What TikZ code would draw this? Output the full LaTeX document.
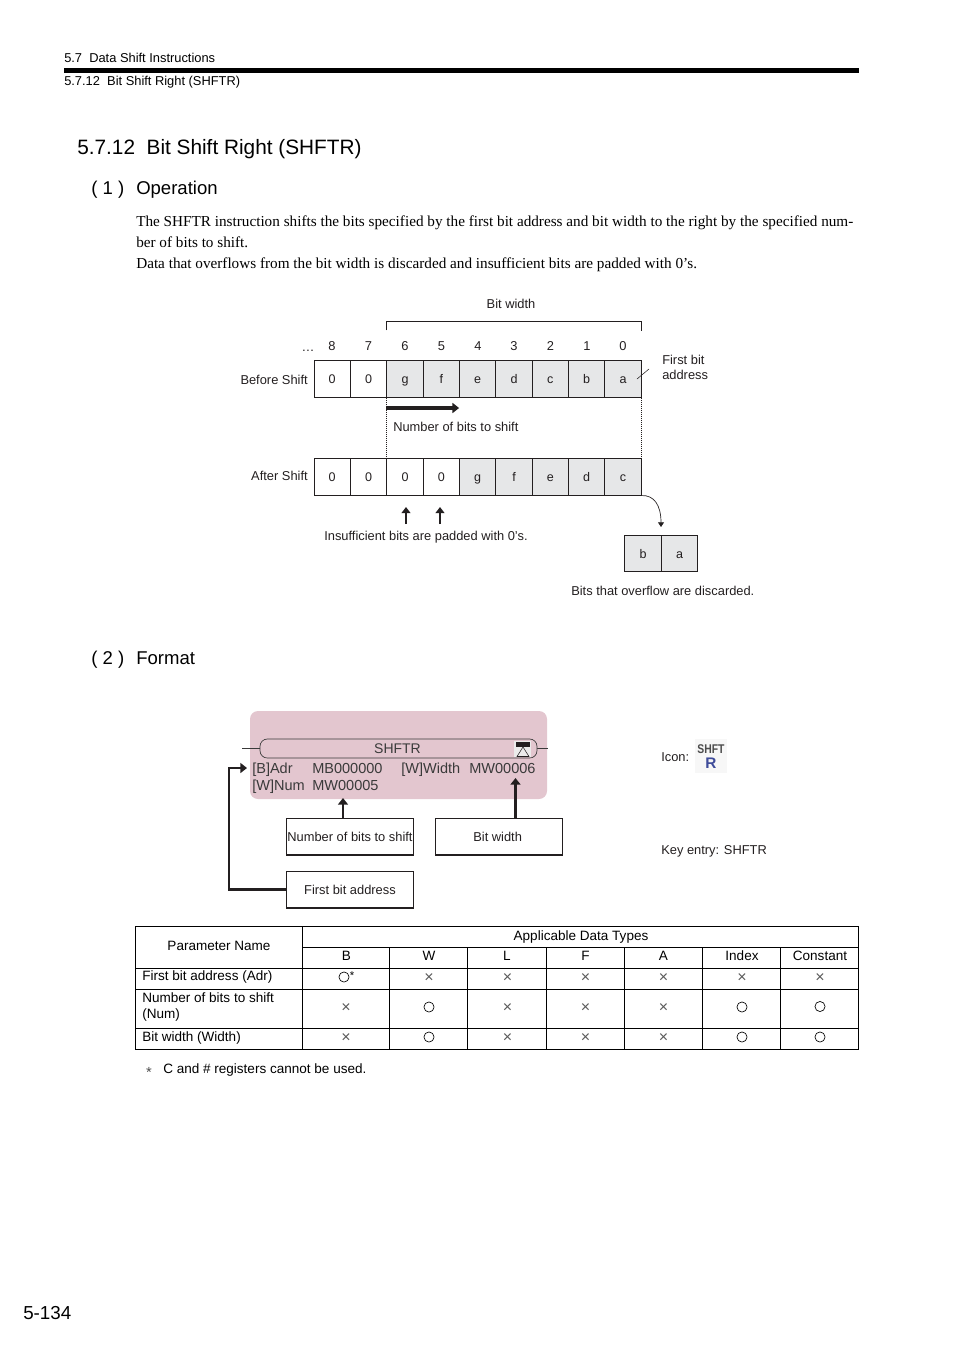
\documentclass[tikz,border=0pt]{standalone}
\usepackage{fontspec}
\setmainfont{Liberation Sans}
\newfontfamily\timesfont{Liberation Serif}
\usetikzlibrary{arrows.meta}
\definecolor{inkdark}{HTML}{231F20}
\definecolor{cellgray}{HTML}{E6E7E8}
\definecolor{panelpink}{HTML}{E3C6CF}
\definecolor{paneltext}{HTML}{3A3A3A}
\definecolor{iconblue}{HTML}{3F4C9A}
\tikzset{
  label/.style={inner sep=0pt,anchor=base west,text=inkdark,font=\fontsize{9.65}{11}\selectfont},
  clabel/.style={label,anchor=base},
  rlabel/.style={label,anchor=base east},
  heading/.style={label,text=black,font=\fontsize{13.9}{16}\selectfont},
  bodytext/.style={label,text=black,font=\timesfont\fontsize{11.41}{13}\selectfont},
  cell/.style={draw=inkdark,line width=0.6pt,inner sep=0pt,minimum width=27.3pt,minimum height=27.2pt,text height=8.8pt,text depth=1.9pt,text=inkdark,font=\fontsize{9.4}{11}\selectfont},
  graycell/.style={cell,fill=cellgray},
  callout/.style={draw=inkdark,line width=0.5pt,inner sep=0pt,minimum width=95.5pt,minimum height=27.6pt,text height=8.8pt,text depth=1.9pt,text=inkdark,font=\fontsize{9.65}{11}\selectfont},
  fatarrow/.style={draw=inkdark,line width=1.7pt,-{Triangle[length=5pt,width=7.5pt]}},
  paneltxt/.style={inner sep=0pt,anchor=base west,text=paneltext,font=\fontsize{10.9}{13}\selectfont},
  tabletxt/.style={label,text=black,font=\fontsize{10.15}{12}\selectfont},
  tablec/.style={tabletxt,anchor=base},
  okmark/.style={draw=black,circle,line width=0.5pt,inner sep=0pt,minimum size=7.6pt},
  nomark/.style={inner sep=0pt,text=black!65,font=\fontsize{12}{13}\selectfont},
  gridline/.style={draw=black,line width=0.6pt}
}
\begin{document}
\begin{tikzpicture}[x=0.75pt,y=-0.75pt]
\useasboundingbox (0,0) rectangle (954,1350);
% running head
\node[label,text=black] (headsec) at (64,62) {5.7\ \ Data Shift Instructions};
\fill[black] (64,68) rectangle (859,73);
\node[label,text=black] (headsub) at (64,85) {5.7.12\ \ Bit Shift Right (SHFTR)};

\node[heading,font=\fontsize{15.6}{19}\selectfont] (title) at (77,154) {5.7.12\ \ Bit Shift Right (SHFTR)};
\node[heading] (opnum) at (91,194) {( 1 )};
\node[heading] (optitle) at (136,194) {Operation};
\node[bodytext] (para1) at (136,226) {The SHFTR instruction shifts the bits specified by the first bit address and bit width to the right by the specified num-};
\node[bodytext] (para2) at (136,247) {ber of bits to shift.};
\node[bodytext] (para3) at (136,268) {Data that overflows from the bit width is discarded and insufficient bits are padded with 0’s.};

% before shift
\node[clabel] (bitwidth) at (511,308) {Bit width};
\node[clabel] (dots) at (308,351) {…};
\node[clabel] (n8) at (332,350) {8};
\node[clabel] (n7) at (368.5,350) {7};
\node[clabel] (n6) at (405,350) {6};
\node[clabel] (n5) at (441.5,350) {5};
\node[clabel] (n4) at (478,350) {4};
\node[clabel] (n3) at (514,350) {3};
\node[clabel] (n2) at (550.5,350) {2};
\node[clabel] (n1) at (587,350) {1};
\node[clabel] (n0) at (623,350) {0};
\node[rlabel] (before) at (308,384) {Before Shift};
\node[cell] (bs8) at (332.2,379) {0};
\node[cell] (bs7) at (368.5,379) {0};
\node[graycell] (bs6) at (405,379) {g};
\node[graycell] (bs5) at (441.3,379) {f};
\node[graycell] (bs4) at (477.7,379) {e};
\node[graycell] (bs3) at (514,379) {d};
\node[graycell] (bs2) at (550.3,379) {c};
\node[graycell] (bs1) at (586.7,379) {b};
\node[graycell] (bs0) at (623,379) {a};
\draw[draw=inkdark,line width=0.6pt] (bs6.north west) ++(0,-30) -- ++(0,-9) -| ([yshift=22.3pt]bs0.north east);
\node[label] (first1) at (662,364) {First bit};
\node[label] (first2) at (662,379) {address};
\coordinate (firsttick) at (649,369);
\draw[draw=inkdark,line width=0.4pt] (firsttick) -- (637,379);

\coordinate (shiftend) at (bs4.south west |- 0,408);
\draw[fatarrow,line width=2.4pt] (bs6.south west |- shiftend) -- (shiftend);
\node[label] (shiftlabel) at (393,431) {Number of bits to shift};

% after shift
\node[rlabel] (after) at (308,480) {After Shift};
\node[cell] (as8) at (332.2,477) {0};
\node[cell] (as7) at (368.5,477) {0};
\node[cell] (as6) at (405,477) {0};
\node[cell] (as5) at (441.3,477) {0};
\node[graycell] (as4) at (477.7,477) {g};
\node[graycell] (as3) at (514,477) {f};
\node[graycell] (as2) at (550.3,477) {e};
\node[graycell] (as1) at (586.7,477) {d};
\node[graycell] (as0) at (623,477) {c};
\draw[draw=inkdark,line width=0.5pt,densely dotted] (bs6.south west) -- (as6.north west);
\draw[draw=inkdark,line width=0.5pt,densely dotted] (bs0.south east) -- (as0.north east);

\coordinate (pad6) at (406,507);
\coordinate (pad5) at (440,507);
\node[label] (padlabel) at (324,540) {Insufficient bits are padded with 0’s.};
\draw[draw=inkdark,line width=1.3pt,-{Triangle[length=4.5pt,width=6.5pt]}] (pad6 |- 0,524) -- (pad6);
\draw[draw=inkdark,line width=1.3pt,-{Triangle[length=4.5pt,width=6.5pt]}] (pad5 |- 0,524) -- (pad5);

\node[graycell] (ovb) at (643,553.7) {b};
\node[graycell] (ova) at (679.5,553.7) {a};
\draw[draw=inkdark,line width=0.5pt,-{Triangle[length=3.5pt,width=4.5pt]}] (as0.south east) .. controls (654,495) and (661,505) .. (661,527);
\node[label] (ovlabel) at (571,595) {Bits that overflow are discarded.};

% format
\node[heading] (fmtnum) at (91,664) {( 2 )};
\node[heading] (fmttitle) at (136,664) {Format};

\draw[draw=none,fill=panelpink,rounded corners=6pt] (250,711) rectangle (547,799);
\draw[draw=paneltext,line width=0.4pt] (242,748.5) -- (548,748.5);
\draw[draw=paneltext,fill=panelpink,line width=0.5pt,rounded corners=5.5pt] (260,739) rectangle (537,758);
\node[paneltxt,anchor=base,font=\fontsize{10.5}{13}\selectfont] (fname) at (397.5,753) {SHFTR};
% little icon in the bar
\fill[white!92!black] (514,741) rectangle (531,757);
\fill[inkdark] (516,742) rectangle (530,746.5);
\draw[draw=inkdark,line width=0.4pt] (523,747) -- (529,756.5) -- (517,756.5) -- cycle;
\node[paneltxt] (padr) at (252,773) {[B]Adr};
\node[paneltxt] (vadr) at (312,773) {MB000000};
\node[paneltxt] (pwidth) at (401,773) {[W]Width};
\node[paneltxt] (vwidth) at (469,773) {MW00006};
\node[paneltxt] (pnum) at (252,790) {[W]Num};
\node[paneltxt] (vnum) at (312,790) {MW00005};

\node[callout] (numbox) at (350,836.5) {Number of bits to shift};
\node[callout] (widthbox) at (499,836.5) {Bit width\hspace*{2pt}};
\node[callout] (addrbox) at (350,889.5) {First bit address};
\draw[draw=inkdark,line width=1.4pt] (numbox.south west) -- (numbox.south east);
\draw[draw=inkdark,line width=1.4pt] (widthbox.south west) -- (widthbox.south east);
\draw[draw=inkdark,line width=1.4pt] (addrbox.south west) -- (addrbox.south east);
\coordinate (numtip) at (343,798);
\coordinate (widthtip) at (515.5,778);
\coordinate (addrtip) at (247,768);
\draw[fatarrow] (numtip |- numbox.north) -- (numtip);
\draw[fatarrow] (widthtip |- widthbox.north) -- (widthtip);
\draw[fatarrow] (addrbox.west) -| (229,768) -- (addrtip);

\node[label] (iconlabel) at (661,761) {Icon:};
\fill[black!3] (695,739) rectangle (727,773);
\node[inner sep=0pt,anchor=base,text=black!70,font=\bfseries\fontsize{9.5}{10}\selectfont] (icontop) at (711,753) {\scalebox{.82}[1]{SHFT}};
\node[inner sep=0pt,anchor=base,text=iconblue,font=\bfseries\fontsize{11.5}{12}\selectfont] (iconr) at (711,768) {R};
\node[label] (keylabel) at (661,854) {Key entry: SHFTR};

% table grid
\draw[gridline] (135.5,926.5) rectangle (858.5,1049.5);
\draw[gridline] (302.5,947.5) -- (858.5,947.5);
\draw[gridline] (135.5,968.5) -- (858.5,968.5);
\draw[gridline] (135.5,989.5) -- (858.5,989.5);
\draw[gridline] (135.5,1028.5) -- (858.5,1028.5);
\draw[gridline] (302.5,926.5) -- (302.5,1049.5);
\draw[gridline] (389.5,947.5) -- (389.5,1049.5);
\draw[gridline] (467.5,947.5) -- (467.5,1049.5);
\draw[gridline] (546.5,947.5) -- (546.5,1049.5);
\draw[gridline] (624.5,947.5) -- (624.5,1049.5);
\draw[gridline] (702.5,947.5) -- (702.5,1049.5);
\draw[gridline] (780.5,947.5) -- (780.5,1049.5);

\node[tablec] (hparam) at (219,950) {Parameter Name};
\node[tablec] (htypes) at (581,940.5) {Applicable Data Types};
\node[tablec] (hb) at (346.5,960.5) {B};
\node[tablec] (hw) at (429,960.5) {W};
\node[tablec] (hl) at (507,960.5) {L};
\node[tablec] (hf) at (585.5,960.5) {F};
\node[tablec] (ha) at (663.5,960.5) {A};
\node[tablec] (hi) at (742,960.5) {Index};
\node[tablec] (hc) at (820,960.5) {Constant};

\node[tabletxt] (rowadr) at (142,980) {First bit address (Adr)};
\node[okmark] (adrb) at (344,977) {};
\node[tablec,anchor=base west,font=\fontsize{8.5}{9}\selectfont] (adrstar) at (349.5,979) {*};
\node[nomark] (adrw) at (429,978) {×};
\node[nomark] (adrl) at (507.5,978) {×};
\node[nomark] (adrf) at (585.5,978) {×};
\node[nomark] (adra) at (663.5,978) {×};
\node[nomark] (adri) at (742,978) {×};
\node[nomark] (adrc) at (820,978) {×};

\node[tabletxt] (rownum) at (142,1002) {Number of bits to shift};
\node[tabletxt] (rownum2) at (142,1018) {(Num)};
\node[nomark] (numb) at (346,1008) {×};
\node[okmark] (numw) at (429,1007) {};
\node[nomark] (numl) at (507.5,1008) {×};
\node[nomark] (numf) at (585.5,1008) {×};
\node[nomark] (numa) at (663.5,1008) {×};
\node[okmark] (numi) at (742,1007) {};
\node[okmark] (numc) at (820,1006.5) {};

\node[tabletxt] (rowwid) at (142,1041) {Bit width (Width)};
\node[nomark] (widb) at (346,1038.5) {×};
\node[okmark] (widw) at (429,1037) {};
\node[nomark] (widl) at (507.5,1038.5) {×};
\node[nomark] (widf) at (585.5,1038.5) {×};
\node[nomark] (wida) at (663.5,1038.5) {×};
\node[okmark] (widi) at (742,1037) {};
\node[okmark] (widc) at (820,1037) {};

\node[tablec,font=\fontsize{11}{12}\selectfont,text=black!70] (footstar) at (149,1077) {*};
\node[tabletxt] (foot) at (163,1073) {C and \# registers cannot be used.};

\node[label,text=black,font=\fontsize{14.1}{18}\selectfont] (pageno) at (23,1319) {5-134};
\end{tikzpicture}
\end{document}
